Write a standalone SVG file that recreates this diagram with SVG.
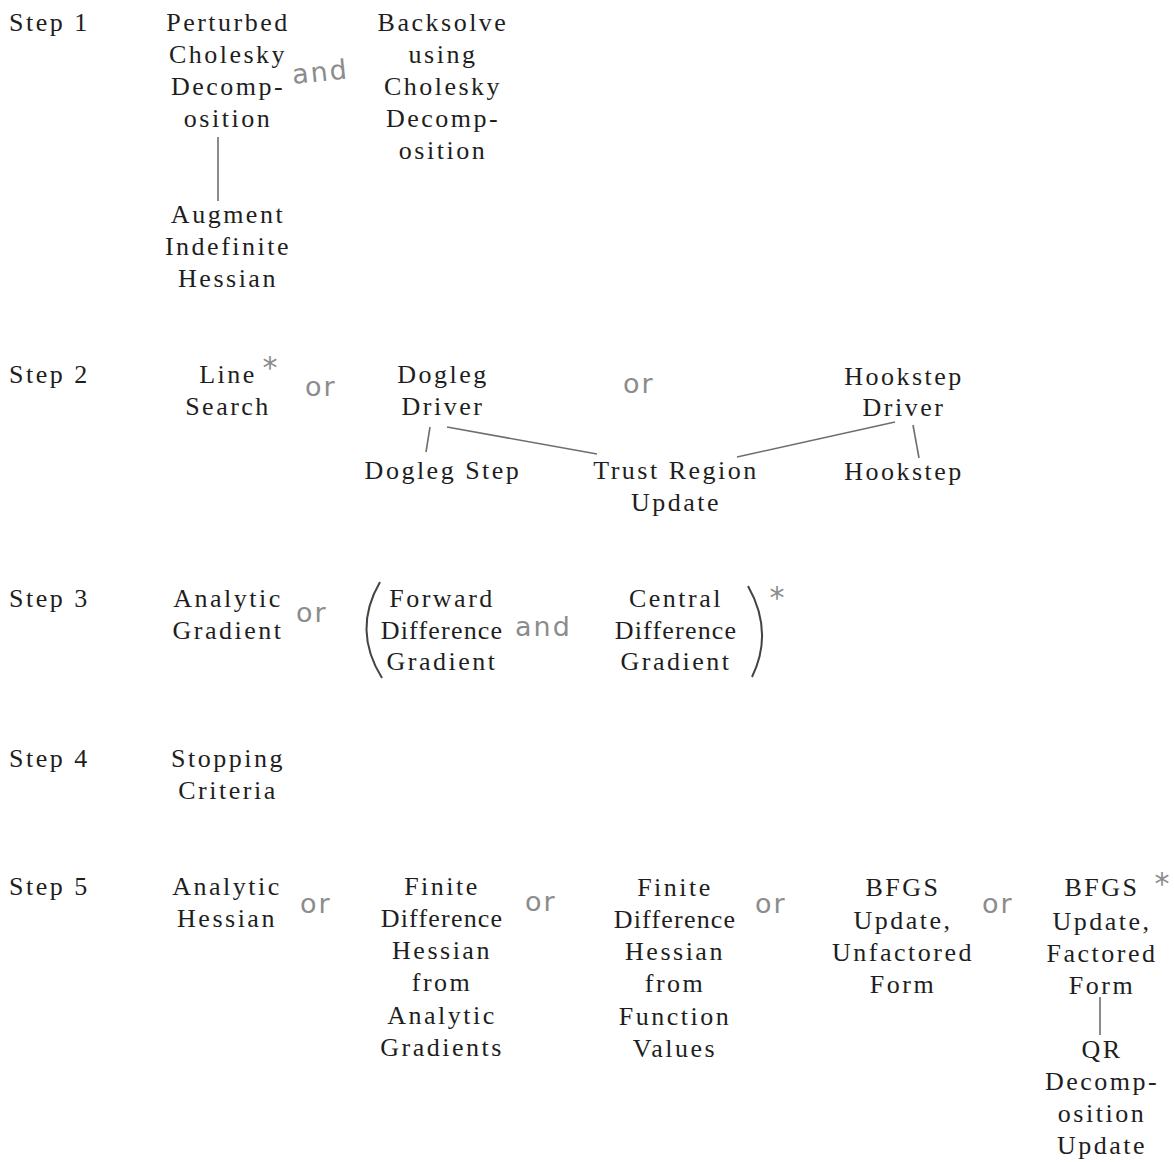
<svg xmlns="http://www.w3.org/2000/svg" width="1174" height="1162" viewBox="0 0 1174 1162">
<style>
.t{font-family:"Liberation Serif","Times New Roman",serif;font-size:26px;letter-spacing:2.5px;fill:#1e1e1e;text-anchor:middle}
.s{font-family:"Liberation Serif","Times New Roman",serif;font-size:26px;letter-spacing:2.5px;fill:#1e1e1e}
.n{letter-spacing:1.2px}
.h{font-family:"DejaVu Sans","Liberation Sans",sans-serif;font-size:27px;letter-spacing:2px;fill:#8c8c8c}
.a{font-family:"DejaVu Sans","Liberation Sans",sans-serif;font-size:30px;fill:#8c8c8c;text-anchor:middle}
.c{stroke:#6e6e6e;stroke-width:1.6;fill:none}
.p{stroke:#444;stroke-width:2;fill:none}
</style>
<rect width="1174" height="1162" fill="#ffffff"/>
<g id="steps">
<text class="s" x="9" y="31">Step 1</text>
<text class="s" x="9" y="383">Step 2</text>
<text class="s" x="9" y="607">Step 3</text>
<text class="s" x="9" y="767">Step 4</text>
<text class="s" x="9" y="895">Step 5</text>
</g>
<g id="connectors">
<line class="c" x1="218" y1="137" x2="218" y2="201"/>
<line class="c" x1="430" y1="427" x2="426" y2="452"/>
<line class="c" x1="447" y1="427" x2="597" y2="454"/>
<line class="c" x1="895" y1="422" x2="737" y2="457"/>
<line class="c" x1="913" y1="425" x2="919" y2="458"/>
<line class="c" x1="1100" y1="997" x2="1100" y2="1035"/>
</g>
<g id="perturbed-cholesky">
<text class="t" x="228" y="31">Perturbed</text>
<text class="t" x="228" y="63">Cholesky</text>
<text class="t" x="228" y="95">Decomp-</text>
<text class="t" x="228" y="127">osition</text>
</g>
<g id="augment-indefinite-hessian">
<text class="t" x="228" y="223">Augment</text>
<text class="t" x="228" y="255">Indefinite</text>
<text class="t" x="228" y="287">Hessian</text>
</g>
<g id="backsolve">
<text class="t" x="443" y="31">Backsolve</text>
<text class="t" x="443" y="63">using</text>
<text class="t" x="443" y="95">Cholesky</text>
<text class="t" x="443" y="127">Decomp-</text>
<text class="t" x="443" y="159">osition</text>
</g>
<g id="line-search">
<text class="t" x="228" y="383">Line</text>
<text class="t" x="228" y="415">Search</text>
</g>
<g id="dogleg-driver">
<text class="t" x="443" y="383">Dogleg</text>
<text class="t" x="443" y="415">Driver</text>
</g>
<g id="hookstep-driver">
<text class="t" x="904" y="385">Hookstep</text>
<text class="t" x="904" y="416">Driver</text>
</g>
<g id="dogleg-step">
<text class="t" x="443" y="479">Dogleg Step</text>
</g>
<g id="trust-region-update">
<text class="t" x="676" y="479">Trust Region</text>
<text class="t" x="676" y="511">Update</text>
</g>
<g id="hookstep">
<text class="t" x="904" y="480">Hookstep</text>
</g>
<g id="analytic-gradient">
<text class="t" x="228" y="607">Analytic</text>
<text class="t" x="228" y="639">Gradient</text>
</g>
<g id="forward-difference-gradient">
<text class="t" x="442" y="607">Forward</text>
<text class="t n" x="442" y="639">Difference</text>
<text class="t" x="442" y="670">Gradient</text>
</g>
<g id="central-difference-gradient">
<text class="t" x="676" y="607">Central</text>
<text class="t n" x="676" y="639">Difference</text>
<text class="t" x="676" y="670">Gradient</text>
</g>
<g id="stopping-criteria">
<text class="t" x="228" y="767">Stopping</text>
<text class="t" x="228" y="799">Criteria</text>
</g>
<g id="analytic-hessian">
<text class="t" x="227" y="895">Analytic</text>
<text class="t" x="227" y="927">Hessian</text>
</g>
<g id="fd-hessian-gradients">
<text class="t" x="442" y="895">Finite</text>
<text class="t n" x="442" y="927">Difference</text>
<text class="t" x="442" y="959">Hessian</text>
<text class="t" x="442" y="991">from</text>
<text class="t" x="442" y="1024">Analytic</text>
<text class="t" x="442" y="1056">Gradients</text>
</g>
<g id="fd-hessian-function">
<text class="t" x="675" y="896">Finite</text>
<text class="t n" x="675" y="928">Difference</text>
<text class="t" x="675" y="960">Hessian</text>
<text class="t" x="675" y="992">from</text>
<text class="t" x="675" y="1025">Function</text>
<text class="t" x="675" y="1057">Values</text>
</g>
<g id="bfgs-unfactored">
<text class="t" x="903" y="896">BFGS</text>
<text class="t" x="903" y="929">Update,</text>
<text class="t" x="903" y="961">Unfactored</text>
<text class="t" x="903" y="993">Form</text>
</g>
<g id="bfgs-factored">
<text class="t" x="1102" y="896">BFGS</text>
<text class="t" x="1102" y="930">Update,</text>
<text class="t" x="1102" y="962">Factored</text>
<text class="t" x="1102" y="994">Form</text>
</g>
<g id="qr-decomposition-update">
<text class="t" x="1102" y="1058">QR</text>
<text class="t" x="1102" y="1090">Decomp-</text>
<text class="t" x="1102" y="1122">osition</text>
<text class="t" x="1102" y="1154">Update</text>
</g>
<g id="brackets">
<path class="p" d="M380,582 Q352,630 382,678"/>
<path class="p" d="M748,586 Q774,632 752,677"/>
</g>
<g id="annotations">
<text class="h" x="292" y="81" transform="rotate(-6 322 72)">and</text>
<text class="h" x="305" y="396">or</text>
<text class="h" x="623" y="393">or</text>
<text class="h" x="296" y="622">or</text>
<text class="h" x="515" y="636">and</text>
<text class="h" x="300" y="913">or</text>
<text class="h" x="525" y="911">or</text>
<text class="h" x="755" y="913">or</text>
<text class="h" x="982" y="913">or</text>
<text class="a" x="270" y="378">*</text>
<text class="a" x="777" y="608">*</text>
<text class="a" x="1162" y="894">*</text>
</g>
</svg>
